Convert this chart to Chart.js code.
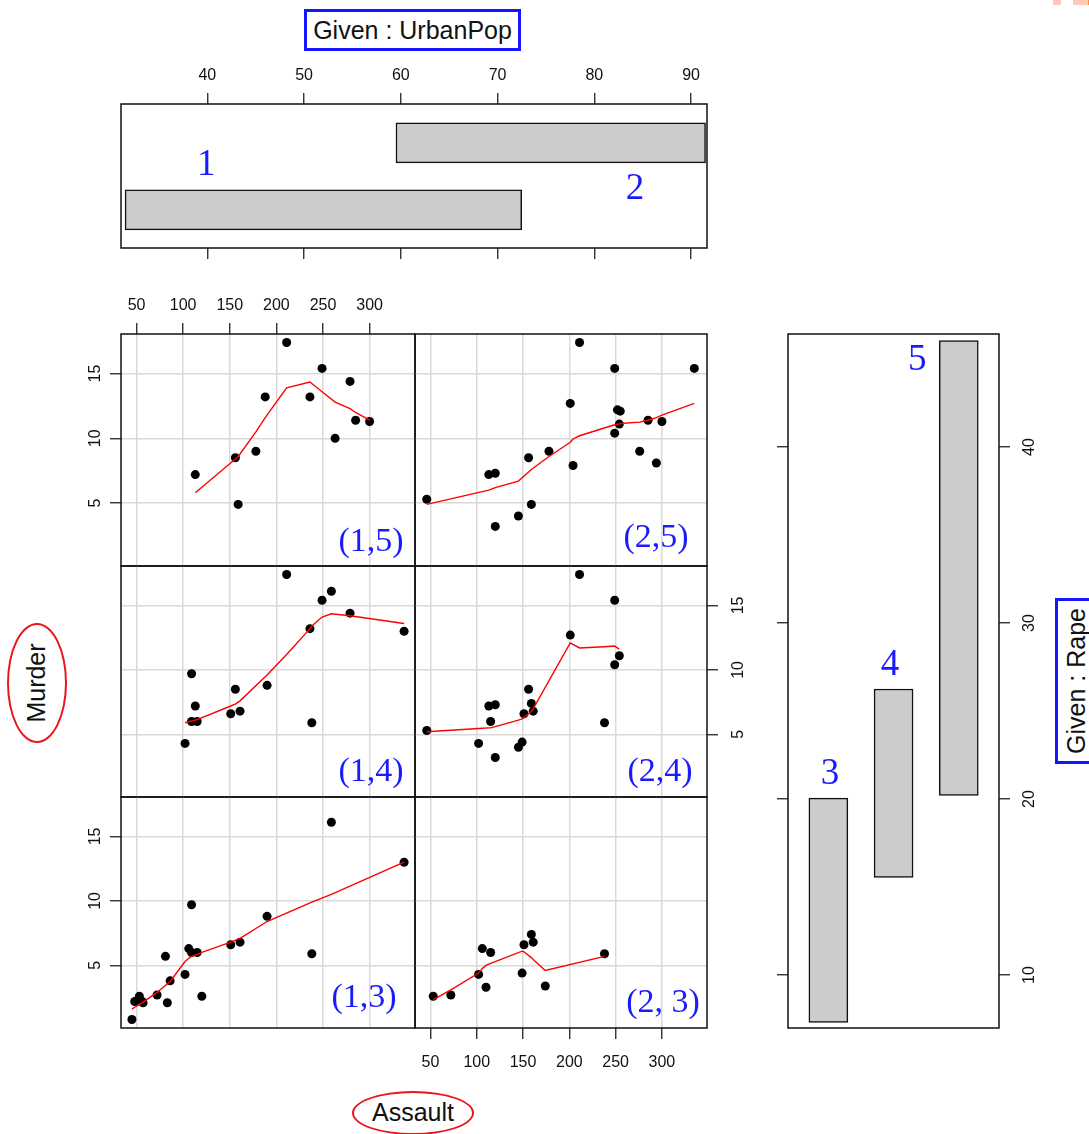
<!DOCTYPE html>
<html>
<head>
<meta charset="utf-8">
<script src="https://cdn.jsdelivr.net/npm/chart.js@4.4.1/dist/chart.umd.min.js"></script>
<style>
  body { margin: 0; width: 1089px; height: 1134px; overflow: hidden; position: relative; background: #fff;
         font-family: "Liberation Sans", Arial, sans-serif; }
  canvas { position: absolute; }
  .box { position: absolute; box-sizing: border-box; text-align: center; color: #111; }
  .oval { position: absolute; box-sizing: border-box; border: 2.5px solid #e8151b; border-radius: 50%;
          text-align: center; color: #111; font-size: 25px; }
</style>
</head>
<body>

<div class="box" style="left:304px;top:9px;width:217px;height:42px;border:3px solid #1414ff;font-size:25px;line-height:36px;">Given : UrbanPop</div>
<div class="box" style="left:993px;top:660px;width:166px;height:42px;border:3px solid #1414ff;font-size:25px;line-height:36px;transform:rotate(-90deg);">Given : Rape</div>
<div class="oval" style="left:-23px;top:653px;width:120px;height:60px;line-height:55px;transform:rotate(-90deg);">Murder</div>
<div class="oval" style="left:352px;top:1091px;width:122px;height:44px;line-height:39px;">Assault</div>
<div style="position:absolute;left:1053px;top:0;width:8px;height:5px;background:#ffc9b3"></div>
<div style="position:absolute;left:1073px;top:0;width:15px;height:5px;background:#ffc9b3"></div>
<div style="position:absolute;left:1088px;top:0;width:1px;height:5px;background:#ff8a4a"></div>

<script>
// conditioning intervals
const urbanPopIntervals = [[31.5, 72.5], [59.5, 91.5]];
const rapeIntervals = [[7.3, 20.05], [15.55, 26.25], [20.2, 46.05]];
const urbanPopNames = ['1', '2'];
const rapeNames = ['3', '4', '5'];

// axis limits
const assaultRange = [33.3, 348.7];
const murderRange = [0.14, 18.06];
const urbanPopRange = [31.08, 91.65];
const rapeRange = [6.99, 46.42];

// panel (1,5)
const assault15 = [113, 156, 159, 178, 188, 211, 236, 249, 263, 279, 285, 300];
const murder15 = [7.2, 8.5, 4.9, 9.0, 13.2, 17.4, 13.2, 15.4, 10.0, 14.4, 11.4, 11.3];
const fitX15 = [113, 156, 159, 178, 188, 211, 236, 249, 263, 279, 285, 300];
const fitY15 = [5.8, 8.4, 8.6, 10.5, 11.6, 13.9, 14.35, 13.6, 12.8, 12.3, 12.0, 11.4];

// panel (2,5)
const assault25 = [46, 113, 120, 120, 145, 156, 159, 178, 201, 204, 211, 249, 249, 252, 255, 254, 276, 285, 294, 300, 335];
const murder25 = [5.3, 7.2, 7.3, 3.2, 4.0, 8.5, 4.9, 9.0, 12.7, 7.9, 17.4, 15.4, 10.4, 12.2, 12.1, 11.1, 9.0, 11.4, 8.1, 11.3, 15.4];
const fitX25 = [46, 113, 120, 145, 156, 159, 178, 201, 204, 211, 249, 252, 254, 255, 276, 285, 294, 300, 335];
const fitY25 = [4.9, 6.0, 6.2, 6.7, 7.4, 7.6, 8.6, 9.7, 9.95, 10.2, 11.05, 11.1, 11.1, 11.15, 11.25, 11.4, 11.6, 11.8, 12.7];

// panel (1,4)
const assault14 = [102, 109, 109, 115, 113, 151, 156, 161, 190, 211, 236, 238, 249, 259, 279, 337];
const murder14 = [4.3, 9.7, 6.0, 6.0, 7.2, 6.6, 8.5, 6.8, 8.8, 17.4, 13.2, 5.9, 15.4, 16.1, 14.4, 13.0];
const fitX14 = [102, 109, 113, 115, 151, 156, 161, 190, 211, 236, 238, 249, 259, 279, 337];
const fitY14 = [5.9, 6.05, 6.1, 6.15, 7.2, 7.35, 7.6, 9.6, 11.2, 13.2, 13.4, 14.1, 14.35, 14.2, 13.6];

// panel (2,4)
const assault24 = [46, 102, 113, 115, 120, 120, 145, 149, 151, 156, 159, 161, 201, 211, 238, 249, 249, 254];
const murder24 = [5.3, 4.3, 7.2, 6.0, 7.3, 3.2, 4.0, 4.4, 6.6, 8.5, 7.4, 6.8, 12.7, 17.4, 5.9, 15.4, 10.4, 11.1];
const fitX24 = [46, 102, 113, 115, 120, 145, 149, 151, 156, 159, 161, 201, 211, 238, 249, 254];
const fitY24 = [5.2, 5.45, 5.5, 5.5, 5.6, 6.1, 6.2, 6.3, 6.6, 6.8, 7.0, 12.1, 11.7, 11.8, 11.85, 11.6];

// panel (1,3)
const assault13 = [45, 48, 53, 56, 57, 72, 81, 83, 86, 102, 106, 109, 109, 115, 120, 151, 161, 190, 238, 259, 337];
const murder13 = [0.8, 2.2, 2.6, 2.2, 2.1, 2.7, 5.7, 2.1, 3.8, 4.3, 6.3, 9.7, 6.0, 6.0, 2.6, 6.6, 6.8, 8.8, 5.9, 16.1, 13.0];
const fitX13 = [45, 48, 53, 56, 57, 72, 81, 83, 86, 102, 106, 109, 115, 120, 151, 161, 190, 238, 259, 337];
const fitY13 = [1.6, 1.75, 1.95, 2.1, 2.15, 2.9, 3.45, 3.55, 3.75, 5.3, 5.55, 5.7, 5.85, 6.0, 6.8, 7.1, 8.4, 9.9, 10.5, 13.0];

// panel (2,3)
const assault23 = [53, 72, 102, 106, 110, 115, 149, 151, 159, 161, 174, 238];
const murder23 = [2.6, 2.7, 4.3, 6.3, 3.3, 6.0, 4.4, 6.6, 7.4, 6.8, 3.4, 5.9];
const fitX23 = [53, 72, 102, 106, 110, 115, 149, 151, 159, 161, 174, 238];
const fitY23 = [2.35, 3.1, 4.4, 4.75, 5.0, 5.15, 6.1, 6.05, 5.6, 5.45, 4.6, 5.7];

Chart.defaults.font.family = '"Liberation Sans", Arial, sans-serif';
const M = 70;   // room around each plot area for its axes
const BLUE = '#1a1aff';

function makeCanvas(r) {
  const c = document.createElement('canvas');
  c.width = r[2] - r[0] + 2 * M;
  c.height = r[3] - r[1] + 2 * M;
  c.style.left = (r[0] - M) + 'px';
  c.style.top = (r[1] - M) + 'px';
  document.body.appendChild(c);
  return c;
}

function axis(o) {
  const horiz = o.pos === 'top' || o.pos === 'bottom';
  return {
    type: 'linear', position: o.pos, min: o.range[0], max: o.range[1], offset: false,
    display: o.display !== false,
    border: { display: false },
    grid: {
      display: true, drawOnChartArea: !!o.grid, color: '#d9d9d9', lineWidth: 1.5,
      drawTicks: !!(o.labels || o.marks), tickLength: 11, tickColor: '#222', tickWidth: 1.3
    },
    ticks: {
      display: !!o.labels, stepSize: o.step, includeBounds: false, autoSkip: false,
      color: '#111', font: { size: 16 }, padding: o.pad || 8,
      minRotation: horiz ? 0 : 90, maxRotation: horiz ? 0 : 90,
      crossAlign: horiz ? 'near' : 'center'
    },
    afterFit(s) { if (horiz) s.height = M; else s.width = M; }
  };
}

const framePlugin = {
  id: 'frame',
  afterDraw(chart) {
    const { ctx, chartArea: a } = chart;
    ctx.save();
    ctx.strokeStyle = '#111';
    ctx.lineWidth = 1.5;
    ctx.strokeRect(a.left, a.top, a.right - a.left, a.bottom - a.top);
    ctx.restore();
  }
};

function tagPlugin(text, dx, dy) {
  return {
    id: 'tag',
    afterDatasetsDraw(chart) {
      const { ctx, chartArea: a } = chart;
      ctx.save();
      ctx.font = '34px "Liberation Serif", "Times New Roman", serif';
      ctx.fillStyle = BLUE;
      ctx.textAlign = 'center';
      ctx.textBaseline = 'alphabetic';
      ctx.fillText(text, a.left + dx, a.bottom - dy);
      ctx.restore();
    }
  };
}

function numberPlugin(items) {
  return {
    id: 'numbers',
    afterDatasetsDraw(chart) {
      const { ctx, scales: { x, y } } = chart;
      ctx.save();
      ctx.font = '37px "Liberation Serif", "Times New Roman", serif';
      ctx.fillStyle = BLUE;
      ctx.textAlign = 'center';
      ctx.textBaseline = 'middle';
      items.forEach(it => ctx.fillText(it.text, x.getPixelForValue(it.x), y.getPixelForValue(it.y)));
      ctx.restore();
    }
  };
}

const pairs = (xs, ys) => xs.map((v, i) => ({ x: v, y: ys[i] }));
const baseOpts = { animation: false, responsive: false, events: [],
  plugins: { legend: { display: false }, tooltip: { enabled: false } } };

// ---- top given panel: UrbanPop ----
new Chart(makeCanvas([121, 104, 707, 248]), {
  type: 'bar',
  data: {
    datasets: [{
      data: urbanPopIntervals.map((iv, i) => ({ y: i + 1, x: iv })),
      backgroundColor: '#cccccc', borderColor: '#111', borderWidth: 1.5,
      borderSkipped: false, barThickness: 40
    }]
  },
  options: {
    ...baseOpts,
    indexAxis: 'y',
    layout: { padding: { left: M, right: M } },
    scales: {
      x: axis({ pos: 'top', range: urbanPopRange, step: 10, labels: true, pad: 8 }),
      x2: axis({ pos: 'bottom', range: urbanPopRange, step: 10, marks: true }),
      y: { type: 'linear', min: 0.43, max: 2.58, offset: false, display: false }
    }
  },
  plugins: [framePlugin, numberPlugin([
    { text: urbanPopNames[0], x: 39.9, y: 1.67 },
    { text: urbanPopNames[1], x: 84.2, y: 1.3 }
  ])]
});

// ---- right given panel: Rape ----
new Chart(makeCanvas([788, 334, 999, 1028]), {
  type: 'bar',
  data: {
    datasets: [{
      data: rapeIntervals.map((iv, i) => ({ x: i + 1, y: iv })),
      backgroundColor: '#cccccc', borderColor: '#111', borderWidth: 1.5,
      borderSkipped: false, barThickness: 39
    }]
  },
  options: {
    ...baseOpts,
    layout: { padding: { top: M, bottom: M } },
    scales: {
      x: { type: 'linear', min: 0.381, max: 3.617, offset: false, display: false },
      y: axis({ pos: 'left', range: rapeRange, step: 10, marks: true }),
      y2: axis({ pos: 'right', range: rapeRange, step: 10, labels: true, pad: 11 })
    }
  },
  plugins: [framePlugin, numberPlugin([
    { text: rapeNames[0], x: 1.025, y: 21.4 },
    { text: rapeNames[1], x: 1.945, y: 27.6 },
    { text: rapeNames[2], x: 2.364, y: 44.9 }
  ])]
});

// ---- scatter panels ----
const colEdges = [121, 415, 707];
const rowEdges = [334, 566, 797, 1028];

function scatterPanel(p) {
  const rect = [colEdges[p.col], rowEdges[p.row], colEdges[p.col + 1], rowEdges[p.row + 1]];
  const padding = {
    top: p.xPos === 'top' ? 0 : M, bottom: p.xPos === 'bottom' ? 0 : M,
    left: p.yPos === 'left' ? 0 : M, right: p.yPos === 'right' ? 0 : M
  };
  new Chart(makeCanvas(rect), {
    type: 'scatter',
    data: {
      datasets: [
        { data: p.fit, showLine: true, borderColor: '#ff0000', borderWidth: 1.4,
          pointRadius: 0, pointHoverRadius: 0, tension: 0 },
        { data: p.pts, pointRadius: 4.5, pointBackgroundColor: '#000', pointBorderWidth: 0 }
      ]
    },
    options: {
      ...baseOpts,
      layout: { padding },
      scales: {
        x: axis({ pos: p.xPos, range: assaultRange, step: 50, labels: p.xLab, grid: true,
                  pad: p.xPos === 'top' ? 8 : 14 }),
        y: axis({ pos: p.yPos, range: murderRange, step: 5, labels: p.yLab, grid: true,
                  pad: p.yPos === 'left' ? 6 : 12 })
      }
    },
    plugins: [framePlugin, tagPlugin(p.tag, p.dx, p.dy)]
  });
}

[
  { col: 0, row: 0, pts: pairs(assault15, murder15), fit: pairs(fitX15, fitY15), tag: '(1,5)', dx: 250, dy: 15,
    xPos: 'top', xLab: true, yPos: 'left', yLab: true },
  { col: 1, row: 0, pts: pairs(assault25, murder25), fit: pairs(fitX25, fitY25), tag: '(2,5)', dx: 241, dy: 19,
    xPos: 'bottom', xLab: false, yPos: 'left', yLab: false },
  { col: 0, row: 1, pts: pairs(assault14, murder14), fit: pairs(fitX14, fitY14), tag: '(1,4)', dx: 250, dy: 16,
    xPos: 'bottom', xLab: false, yPos: 'left', yLab: false },
  { col: 1, row: 1, pts: pairs(assault24, murder24), fit: pairs(fitX24, fitY24), tag: '(2,4)', dx: 245, dy: 16,
    xPos: 'bottom', xLab: false, yPos: 'right', yLab: true },
  { col: 0, row: 2, pts: pairs(assault13, murder13), fit: pairs(fitX13, fitY13), tag: '(1,3)', dx: 243, dy: 21,
    xPos: 'bottom', xLab: false, yPos: 'left', yLab: true },
  { col: 1, row: 2, pts: pairs(assault23, murder23), fit: pairs(fitX23, fitY23), tag: '(2, 3)', dx: 248, dy: 16,
    xPos: 'bottom', xLab: true, yPos: 'left', yLab: false }
].forEach(scatterPanel);
</script>
</body>
</html>
